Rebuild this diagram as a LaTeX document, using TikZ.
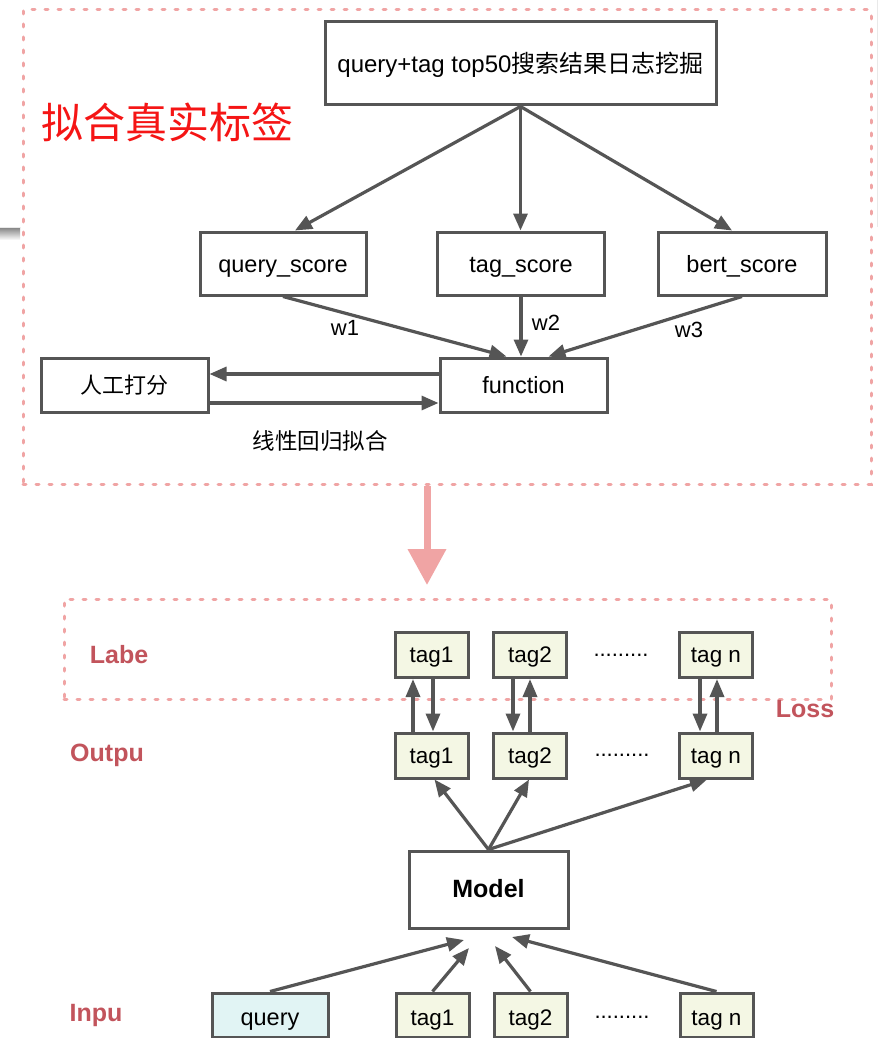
\documentclass[tikz,border=0pt]{standalone}
\usepackage{fontspec}
\setmainfont{Liberation Sans}
\newfontfamily\cjk{Noto Sans CJK SC}
\usetikzlibrary{arrows.meta}
\definecolor{edge}{HTML}{555555}
\definecolor{pinkd}{HTML}{F0A4A4}
\definecolor{rose}{HTML}{C2545C}
\definecolor{tagfill}{HTML}{F4F7E4}
\definecolor{qfill}{HTML}{E1F4F4}
\definecolor{titlered}{HTML}{F51515}
\definecolor{shade}{HTML}{F6F6F6}
\definecolor{shadeline}{HTML}{E9E9E9}
\begin{document}
\begin{tikzpicture}[x=1pt,y=-1pt,
  box/.style={draw=edge,line width=3pt,fill=white,inner sep=0pt,text height=17pt,text depth=0pt,font=\fontsize{23.5}{27}\selectfont},
  tagbox/.style={box,fill=tagfill,minimum width=73pt,minimum height=45pt,text height=15pt,font=\fontsize{22.5}{26}\selectfont},
  inbox/.style={text height=20pt},
  arr/.style={draw=edge,line width=3.2pt,-{Triangle[length=17pt,width=14pt]}},
  sarr/.style={draw=edge,line width=3.4pt,-{Triangle[length=18pt,width=14pt]}},
  grp/.style={draw=pinkd,line width=3pt,dash pattern=on 3pt off 10pt,line cap=round,inner sep=0pt},
  side/.style={text=rose,font=\bfseries\fontsize{25}{29}\selectfont},
  wlab/.style={font=\fontsize{22}{26}\selectfont},
  dots/.style={font=\fontsize{22}{26}\selectfont}
]
\useasboundingbox[fill=white] (0,0) rectangle (887,1038);
% screenshot artifacts
\fill[shade] (0,227) rectangle (20,240);
\draw[shadeline,line width=0.8pt] (0,227) -- (20,227);
\draw[shadeline,line width=0.8pt] (877,0) -- (877,227);

% group frames
\node[grp,minimum width=848pt,minimum height=474pt] (g1) at (447,247) {};
\node[grp,minimum width=767pt,minimum height=100pt] (g2) at (447.5,649) {};

% upper part
\node[box,minimum width=391pt,minimum height=83pt,text height=19pt,font=\fontsize{24}{28}\selectfont] (top) at (520.5,63.5) {query+tag top50{\cjk 搜索结果日志挖掘}};
\node[text=titlered,font=\cjk\fontsize{42}{46}\selectfont] (title) at (167,122) {拟合真实标签};
\node[box,minimum width=166pt,minimum height=63pt] (qs) at (283,263.5) {query\_score};
\node[box,minimum width=167pt,minimum height=63pt] (ts) at (521,263.5) {tag\_score};
\node[box,minimum width=168pt,minimum height=63pt] (bs) at (742,263.5) {bert\_score};
\node[box,minimum width=167pt,minimum height=54pt] (fn) at (523.5,385) {function};
\node[box,minimum width=167pt,minimum height=54pt,font=\cjk\fontsize{22}{26}\selectfont] (rg) at (124.5,385) {人工打分};
\node[font=\cjk\fontsize{22.5}{26}\selectfont] (lr) at (320,441) {线性回归拟合};
\node[wlab] (w1) at (345,328) {w1};
\node[wlab] (w2) at (546,323) {w2};
\node[wlab] (w3) at (689,330) {w3};

\draw[arr] (top.south) -- ([xshift=12pt]qs.north);
\draw[arr] (top.south) -- (top.south |- ts.north);
\draw[arr] (top.south) -- ([xshift=-10pt]bs.north);
\draw[arr] (qs.south) -- ([xshift=-17pt]fn.north);
\draw[arr] (ts.south) -- (ts.south |- fn.north);
\draw[arr] (bs.south) -- ([xshift=25pt]fn.north);
\draw[arr] ([yshift=11pt]fn.west) -- ([yshift=11pt]rg.east);
\draw[arr] ([yshift=-18pt]rg.east) -- ([yshift=-18pt]fn.west);

% big pink arrow
\coordinate (ptip) at (427,585);
\draw[pinkd,line width=7pt,-{Triangle[length=36pt,width=37pt]}] (g1.south -| ptip) -- (ptip);

% lower part
\node[side] (labe) at (119,655) {Labe};
\node[side] (outp) at (107,755) {Outpu};
\node[side] (inpu) at (96,1015) {Inpu};
\node[side] (loss) at (805,709) {Loss};

\node[tagbox] (l1) at (431.5,655) {tag1};
\node[tagbox] (l2) at (530,655) {tag2};
\node[tagbox] (ln) at (716,655) {tag n};
\node[dots] (ld) at (621,655) {.........};

\node[tagbox] (o1) at (431.5,755.5) {tag1};
\node[tagbox] (o2) at (530,755.5) {tag2};
\node[tagbox] (on) at (716,755.5) {tag n};
\node[dots] (od) at (622,755) {.........};

\node[box,minimum width=159pt,minimum height=77pt,text height=15pt,font=\bfseries\fontsize{25}{29}\selectfont] (model) at (488.5,889.5) {Model};

\node[box,inbox,fill=qfill,minimum width=116pt,minimum height=44pt] (q) at (270,1015) {query};
\node[tagbox,inbox,minimum height=44pt] (i1) at (432.5,1015) {tag1};
\node[tagbox,inbox,minimum height=44pt] (i2) at (530.5,1015) {tag2};
\node[tagbox,inbox,minimum height=44pt] (in) at (716.5,1015) {tag n};
\node[dots] (idd) at (622,1017) {.........};

% label/output arrows
\draw[sarr] ([xshift=-18.5pt]o1.north) -- ([xshift=-18.5pt]l1.south);
\draw[sarr] ([xshift=1.5pt]l1.south) -- ([xshift=1.5pt]o1.north);
\draw[sarr] ([xshift=-17pt]l2.south) -- ([xshift=-17pt]o2.north);
\draw[sarr] ([xshift=0pt]o2.north) -- ([xshift=0pt]l2.south);
\draw[sarr] ([xshift=-16pt]ln.south) -- ([xshift=-16pt]on.north);
\draw[sarr] ([xshift=1pt]on.north) -- ([xshift=1pt]ln.south);

% model to outputs
\draw[arr] (model.north) -- ([xshift=3pt]o1.south);
\draw[arr] (model.north) -- ([xshift=-1pt]o2.south);
\draw[arr] (model.north) -- ([xshift=-9pt]on.south);

% inputs to model
\coordinate (tq) at (464,940);
\coordinate (t1) at (469,948);
\coordinate (t2) at (495,946);
\coordinate (tn) at (512,937);
\draw[arr] (q.north) -- (tq);
\draw[arr] (i1.north) -- (t1);
\draw[arr] (i2.north) -- (t2);
\draw[arr] (in.north) -- (tn);
\end{tikzpicture}
\end{document}
